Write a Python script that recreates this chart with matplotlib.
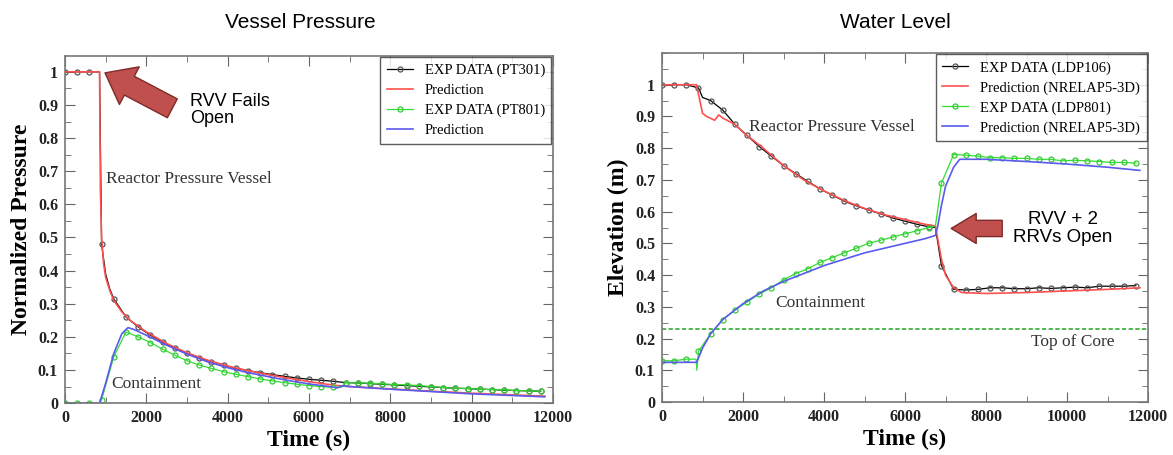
import matplotlib
matplotlib.use('Agg')
import matplotlib.pyplot as plt
from matplotlib.ticker import MultipleLocator

# ---- Vessel Pressure data ----
t_pt301 = [0, 300, 600, 850, 900, 1000, 1100, 1200, 1500, 1800, 2100, 2400, 2700, 3000, 3300,
           3600, 3900, 4200, 4500, 4800, 5100, 5400, 5700, 6000, 6300, 6600, 6900, 7200, 7500,
           7800, 8100, 8400, 8700, 9000, 9300, 9600, 9900, 10200, 10500, 10800, 11100, 11400,
           11700]
p_pt301 = [1.0, 1.0, 1.0, 1.0, 0.48, 0.39, 0.345, 0.315, 0.26, 0.23, 0.205, 0.185, 0.165, 0.15,
           0.137, 0.125, 0.115, 0.105, 0.098, 0.092, 0.086, 0.081, 0.076, 0.072, 0.069, 0.066,
           0.062, 0.061, 0.059, 0.057, 0.055, 0.053, 0.051, 0.049, 0.047, 0.045, 0.044, 0.042,
           0.041, 0.039, 0.038, 0.037, 0.036]

t_rpv_pred = [0, 850, 870, 900, 950, 1000, 1100, 1200, 1400, 1600, 2000, 2500, 3000, 3500, 4000,
              4500, 5000, 5500, 6000, 6500, 6700, 7000, 8000, 9000, 10000, 11000, 11800]
p_rpv_pred = [1.0, 1.0, 0.65, 0.5, 0.42, 0.38, 0.34, 0.31, 0.275, 0.25, 0.215, 0.18, 0.152, 0.13,
              0.112, 0.098, 0.086, 0.075, 0.065, 0.056, 0.053, 0.05, 0.043, 0.036, 0.03, 0.025, 0.021]

t_pt801 = [0, 300, 600, 850, 900, 1200, 1500, 1800, 2100, 2400, 2700, 3000, 3300, 3600, 3900,
           4200, 4500, 4800, 5100, 5400, 5700, 6000, 6300, 6600, 6800, 6900, 7200, 7500, 7800,
           8100, 8400, 8700, 9000, 9300, 9600, 9900, 10200, 10500, 10800, 11100, 11400, 11700]
p_pt801 = [0.0, 0.0, 0.0, 0.0, 0.01, 0.14, 0.215, 0.2, 0.183, 0.163, 0.145, 0.128, 0.115, 0.105,
           0.095, 0.087, 0.08, 0.073, 0.067, 0.062, 0.057, 0.053, 0.05, 0.048, 0.048, 0.062, 0.061,
           0.06, 0.058, 0.056, 0.055, 0.053, 0.05, 0.047, 0.045, 0.044, 0.042, 0.041, 0.04, 0.038,
           0.037, 0.036]

t_cnt_pred = [0, 850, 1000, 1200, 1400, 1550, 1700, 2000, 2500, 3000, 3500, 4000, 4500, 5000,
              5500, 6000, 6500, 6700, 6800, 7000, 8000, 9000, 10000, 11000, 11800]
p_cnt_pred = [0.0, 0.0, 0.06, 0.15, 0.21, 0.228, 0.222, 0.205, 0.175, 0.148, 0.125, 0.107, 0.092,
              0.08, 0.068, 0.058, 0.05, 0.046, 0.052, 0.05, 0.042, 0.035, 0.028, 0.023, 0.019]

# ---- Water Level data ----
t_ldp106 = [0, 300, 600, 900, 1000, 1200, 1500, 1800, 2100, 2400, 2700, 3000, 3300, 3600, 3900,
            4200, 4500, 4800, 5100, 5400, 5700, 6000, 6300, 6600, 6750, 6900, 7200, 7500, 7800,
            8100, 8400, 8700, 9000, 9300, 9600, 9900, 10200, 10500, 10800, 11100, 11400, 11700]
h_ldp106 = [1.0, 1.0, 1.0, 0.99, 0.96, 0.95, 0.92, 0.875, 0.84, 0.805, 0.775, 0.745, 0.72, 0.695,
            0.672, 0.652, 0.633, 0.618, 0.605, 0.593, 0.58, 0.57, 0.56, 0.552, 0.55, 0.43, 0.355,
            0.353, 0.355, 0.36, 0.36, 0.357, 0.357, 0.36, 0.358, 0.36, 0.362, 0.36, 0.365, 0.365,
            0.365, 0.367]

t_rpv_lvl = [0, 850, 900, 1000, 1100, 1300, 1400, 1500, 1800, 2000, 2500, 3000, 3500, 4000, 4500,
             5000, 5500, 6000, 6500, 6750, 6800, 6900, 7000, 7200, 7400, 8000, 9000, 10000,
             11000, 11800]
h_rpv_lvl = [1.0, 1.0, 0.97, 0.91, 0.9, 0.888, 0.905, 0.895, 0.875, 0.85, 0.8, 0.745, 0.7, 0.665,
             0.635, 0.61, 0.59, 0.575, 0.56, 0.555, 0.52, 0.45, 0.4, 0.36, 0.345, 0.342, 0.345,
             0.35, 0.355, 0.36]

t_ldp801 = [0, 300, 600, 840, 860, 900, 1200, 1500, 1800, 2100, 2400, 2700, 3000, 3300, 3600,
            3900, 4200, 4500, 4800, 5100, 5400, 5700, 6000, 6300, 6600, 6750, 6900, 7200, 7500,
            7800, 8100, 8400, 8700, 9000, 9300, 9600, 9900, 10200, 10500, 10800, 11100, 11400,
            11700]
h_ldp801 = [0.13, 0.13, 0.135, 0.135, 0.1, 0.16, 0.215, 0.26, 0.29, 0.315, 0.34, 0.36, 0.385,
            0.405, 0.42, 0.44, 0.455, 0.47, 0.485, 0.5, 0.51, 0.52, 0.53, 0.54, 0.55, 0.555, 0.69,
            0.78, 0.778, 0.775, 0.77, 0.77, 0.768, 0.768, 0.765, 0.765, 0.76, 0.762, 0.76, 0.758,
            0.755, 0.755, 0.753]

t_cnt_lvl = [0, 850, 870, 1000, 1200, 1500, 2000, 2500, 3000, 3500, 4000, 4500, 5000, 5500, 6000,
             6500, 6750, 6800, 6900, 7000, 7200, 7350, 8000, 9000, 10000, 11000, 11800]
h_cnt_lvl = [0.125, 0.125, 0.13, 0.17, 0.215, 0.26, 0.31, 0.35, 0.38, 0.405, 0.43, 0.45, 0.47,
             0.485, 0.5, 0.515, 0.525, 0.55, 0.62, 0.68, 0.74, 0.765, 0.765, 0.758, 0.75, 0.74, 0.73]

top_of_core = 0.23

serif = 'Liberation Serif'
sans = 'Liberation Sans'
arrow_fc = '#C0504D'
arrow_ec = '#7F2A28'


def marks(t):
    return [i for i, v in enumerate(t) if v % 300 == 0]


def style_axes(ax, ymax, xlab, ylab):
    ax.set_xlim(0, 12000)
    ax.set_ylim(0, ymax)
    ax.xaxis.set_major_locator(MultipleLocator(2000))
    ax.xaxis.set_minor_locator(MultipleLocator(1000))
    ax.yaxis.set_minor_locator(MultipleLocator(0.05))
    ax.set_yticks([i / 10 for i in range(11)])
    ax.set_yticklabels(['0'] + ['%.1f' % (i / 10) for i in range(1, 10)] + ['1'])
    ax.tick_params(which='both', direction='in', top=True, right=True, color='#666666')
    ax.tick_params(which='major', length=7, labelsize=11.5, pad=5)
    ax.tick_params(which='minor', length=4)
    for lab in ax.get_xticklabels() + ax.get_yticklabels():
        lab.set_fontfamily(serif)
        lab.set_fontweight('bold')
        lab.set_color('#222222')
    for sp in ax.spines.values():
        sp.set_color('#777777')
        sp.set_linewidth(1.2)
    ax.set_xlabel(xlab, fontfamily=serif, fontweight='bold', fontsize=17, labelpad=3)
    ax.set_ylabel(ylab, fontfamily=serif, fontweight='bold', fontsize=17, labelpad=4)


def exp_kw(color, edge, t):
    return dict(color=color, lw=0.9, marker='o', ms=3.6, mfc='none', mec=edge, mew=0.9,
                markevery=marks(t))


def add_legend(ax):
    leg = ax.legend(loc='upper right', prop={'family': serif, 'size': 10.5}, fancybox=False,
                    edgecolor='#333333', borderaxespad=0.1, handlelength=1.8, labelspacing=0.45,
                    borderpad=0.45)
    leg.get_frame().set_linewidth(1.0)


fig = plt.figure(figsize=(11.73, 4.55), dpi=100)
ax1 = fig.add_axes([0.0554, 0.114, 0.416, 0.763])
ax2 = fig.add_axes([0.5644, 0.1165, 0.4143, 0.767])

# ---- left panel ----
ax1.plot(t_pt301, p_pt301, label='EXP DATA (PT301)', **exp_kw('black', '#555555', t_pt301))
ax1.plot(t_rpv_pred, p_rpv_pred, color='#FF5050', lw=1.2, label='Prediction')
ax1.plot(t_pt801, p_pt801, label='EXP DATA (PT801)', **exp_kw('#33DD33', '#33CC33', t_pt801))
ax1.plot(t_cnt_pred, p_cnt_pred, color='#5A5AF0', lw=1.2, label='Prediction')
style_axes(ax1, 1.048, 'Time (s)', 'Normalized Pressure')
add_legend(ax1)
ax1.text(1000, 0.665, 'Reactor Pressure Vessel', fontfamily=serif, fontsize=12.5, color='#333333')
ax1.text(1150, 0.045, 'Containment', fontfamily=serif, fontsize=12.5, color='#333333')
ax1.annotate('', xy=(984, 0.997), xytext=(2640, 0.89),
             arrowprops=dict(arrowstyle='simple,head_length=1.1,head_width=1.7,tail_width=0.85',
                             fc=arrow_fc, ec=arrow_ec, lw=1.0, mutation_scale=18,
                             shrinkA=0, shrinkB=0))
ax1.text(3080, 0.935, 'RVV Fails\nOpen', fontfamily=sans, fontsize=13, va='top', ha='left',
         linespacing=1.0)
fig.text(0.256, 0.95, 'Vessel Pressure', ha='center', va='center', fontfamily=sans, fontsize=15)

# ---- right panel ----
ax2.plot(t_ldp106, h_ldp106, label='EXP DATA (LDP106)', **exp_kw('black', '#555555', t_ldp106))
ax2.plot(t_rpv_lvl, h_rpv_lvl, color='#FF5050', lw=1.2, label='Prediction (NRELAP5-3D)')
ax2.plot(t_ldp801, h_ldp801, label='EXP DATA (LDP801)', **exp_kw('#33DD33', '#33CC33', t_ldp801))
ax2.plot(t_cnt_lvl, h_cnt_lvl, color='#5A5AF0', lw=1.2, label='Prediction (NRELAP5-3D)')
ax2.axhline(top_of_core, color='#33AA33', lw=1.2, ls=(0, (2.5, 1.5)))
style_axes(ax2, 1.1, 'Time (s)', 'Elevation (m)')
add_legend(ax2)
ax2.text(2150, 0.855, 'Reactor Pressure Vessel', fontfamily=serif, fontsize=12.5, color='#333333')
ax2.text(2800, 0.3, 'Containment', fontfamily=serif, fontsize=12.5, color='#333333')
ax2.text(9100, 0.175, 'Top of Core', fontfamily=serif, fontsize=12.5, color='#333333')
ax2.annotate('', xy=(7140, 0.547), xytext=(8400, 0.547),
             arrowprops=dict(arrowstyle='simple,head_length=1.0,head_width=1.2,tail_width=0.65',
                             fc=arrow_fc, ec=arrow_ec, lw=1.0, mutation_scale=18,
                             shrinkA=0, shrinkB=0))
ax2.text(9900, 0.547, 'RVV + 2\nRRVs Open', fontfamily=sans, fontsize=13.5, ha='center',
         va='center', linespacing=1.1)
fig.text(0.763, 0.95, 'Water Level', ha='center', va='center', fontfamily=sans, fontsize=15)

fig.savefig('out.png', dpi=100)
